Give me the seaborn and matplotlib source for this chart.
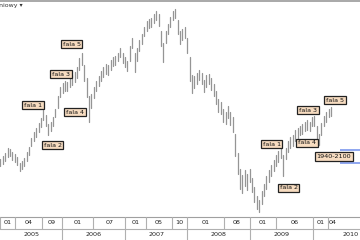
import matplotlib
matplotlib.use("Agg")
import matplotlib.pyplot as plt
import seaborn as sns
import pandas as pd
import numpy as np

# ---- data (bi-weekly high/low, index points) ----
start_date = "2005-01-03"
lows = [1900, 1930, 1960, 2010, 2020, 1980, 1950, 1920, 1840, 1870,
        1900, 1970, 2040, 2150, 2210, 2260, 2320, 2380, 2470, 2400,
        2280, 2330, 2390, 2500, 2620, 2750, 2800, 2830, 2820, 2870,
        2900, 2940, 2990, 3080, 3150, 2950, 2750, 2450, 2620, 2740,
        2830, 2890, 2950, 3000, 3040, 3020, 3090, 3130, 3150, 3190,
        3240, 3170, 3120, 3070, 3200, 3350, 3060, 3200, 3320, 3410,
        3500, 3570, 3600, 3610, 3660, 3700, 3630, 3380, 3185, 3420,
        3530, 3620, 3700, 3730, 3530, 3410, 3460, 3480, 3300, 2950,
        2800, 2860, 2910, 2960, 2910, 2810, 2880, 2910, 2840, 2760,
        2660, 2570, 2540, 2450, 2420, 2490, 2410, 2320, 2030, 1800,
        1620, 1570, 1660, 1610, 1700, 1580, 1460, 1370, 1336, 1430,
        1530, 1620, 1700, 1780, 1840, 1900, 1950, 2000, 1780, 1990,
        2080, 2130, 2150, 2210, 2250, 2280, 2300, 2330, 2350, 2330,
        2390, 2400, 2240, 2160, 2280, 2390, 2450, 2500, 2520]
highs = [1990, 2020, 2060, 2130, 2110, 2080, 2050, 2010, 1940, 1960,
         2000, 2070, 2140, 2250, 2320, 2370, 2430, 2490, 2590, 2530,
         2420, 2440, 2500, 2610, 2760, 2880, 2920, 2950, 2940, 2990,
         3020, 3060, 3120, 3230, 3300, 3150, 2980, 2760, 2790, 2870,
         2950, 3010, 3070, 3120, 3160, 3140, 3210, 3240, 3260, 3300,
         3350, 3290, 3240, 3200, 3380, 3480, 3300, 3360, 3450, 3530,
         3620, 3690, 3710, 3730, 3770, 3810, 3770, 3560, 3420, 3570,
         3650, 3740, 3810, 3835, 3700, 3560, 3590, 3610, 3480, 3250,
         3020, 3010, 3050, 3090, 3050, 2960, 3020, 3040, 2980, 2910,
         2820, 2730, 2690, 2610, 2570, 2640, 2570, 2500, 2300, 2060,
         1860, 1790, 1850, 1800, 1870, 1760, 1640, 1530, 1490, 1590,
         1680, 1780, 1850, 1920, 1980, 2040, 2090, 2130, 2040, 2130,
         2210, 2260, 2280, 2340, 2370, 2400, 2420, 2450, 2470, 2450,
         2510, 2520, 2400, 2300, 2430, 2520, 2570, 2610, 2630]

month_ticks = ["2005-01", "2005-04", "2005-09", "2006-01", "2006-07",
               "2007-01", "2007-05", "2007-10", "2008-01", "2008-08",
               "2009-01", "2009-06", "2010-01", "2010-04"]
month_labels = ["01", "04", "09", "01", "07", "01", "05", "10", "01", "08",
                "01", "06", "01", "04"]
years = ["2005", "2006", "2007", "2008", "2009", "2010"]

wave_labels = ["fala 1", "fala 2", "fala 3", "fala 4", "fala 5",
               "fala 1", "fala 2", "fala 3", "fala 4", "fala 5"]
wave_dates = ["2005-07-13", "2005-11-05", "2005-12-23", "2006-03-15", "2006-02-24",
              "2009-05-08", "2009-08-15", "2009-12-05", "2009-11-29", "2010-05-12"]
wave_levels = [2653, 2161, 3035, 2567, 3404, 2173, 1632, 2592, 2186, 2715]

target_label = "1940-2100"
target_low, target_high = 1940, 2100

# ---- build long table ----
dates = pd.date_range(start_date, periods=len(highs), freq="14D")
df = pd.DataFrame({
    "date": np.concatenate([dates, dates]),
    "price": lows + highs,
    "bar": list(range(len(lows))) * 2,
})

sns.set_style("white")
plt.rcParams["font.family"] = ["DejaVu Sans"]

W, H = 360, 240
fig = plt.figure(figsize=(3.6, 2.4), dpi=100)
ax = fig.add_axes([0, 23 / H, 1, 216 / H])

sns.lineplot(data=df, x="date", y="price", units="bar", estimator=None,
             color="#959595", lw=0.9, legend=False, ax=ax, sort=False)

x0 = pd.Timestamp("2005-01-01")
x1 = pd.Timestamp("2010-10-05")
ax.set_xlim(x0, x1)
ax.set_ylim(1275, 3934)
ax.set_xticks([])
ax.set_yticks([])
ax.set_xlabel("")
ax.set_ylabel("")
for s in ["left", "right"]:
    ax.spines[s].set_visible(False)
ax.spines["top"].set_color("#9a9a9a")
ax.spines["top"].set_linewidth(1.2)
ax.spines["bottom"].set_color("#a0a0a0")
ax.spines["bottom"].set_linewidth(0.8)

# wave labels
for lab, d, lv in zip(wave_labels, wave_dates, wave_levels):
    ax.text(pd.Timestamp(d), lv, lab, fontsize=4.6, ha="center", va="center",
            color="#111111",
            bbox=dict(boxstyle="square,pad=0.25", fc="#f7dcc0", ec="#222222", lw=0.9))

# target zone
ax.hlines([target_high, target_low], pd.Timestamp("2010-06-09"), x1,
          color="#7b97ee", lw=1.2)
ax.text(pd.Timestamp("2010-05-05"), (target_low + target_high) / 2, target_label,
        fontsize=4.6, ha="center", va="center", color="#111111",
        bbox=dict(boxstyle="square,pad=0.25", fc="#f7dcc0", ec="#222222", lw=0.9))

# top-left dropdown text
fig.text(-0.003, 1 - 5 / H, "niowy \u25be", fontsize=4.5, color="#333333",
         ha="left", va="center")

# ---- bottom time axis ----
ax2 = fig.add_axes([0, 0, 1, 23 / H])
ax2.set_xlim(x0, x1)
ax2.set_ylim(0, 1)
ax2.axis("off")
row = 0.478
ax2.axhline(row, color="#b0b0b0", lw=0.8)
mt = [pd.Timestamp(m + "-01") for m in month_ticks]
for i, t in enumerate(mt):
    ax2.plot([t, t], [row, 1], color="#b0b0b0", lw=0.8)
    if i + 1 < len(mt):
        c = t + (mt[i + 1] - t) / 2
    else:
        c = t + pd.Timedelta(days=28)
    ax2.text(c, 0.76, month_labels[i], fontsize=4.6, ha="center", va="center",
             color="#222222")
yb = [pd.Timestamp(y + "-01-01") for y in years]
for i, t in enumerate(yb):
    if i > 0:
        ax2.plot([t, t], [0, row], color="#b0b0b0", lw=0.8)
    if i + 1 < len(yb):
        c = t + (yb[i + 1] - t) / 2
    else:
        c = t + pd.Timedelta(days=225)
    ax2.text(c, 0.24, years[i], fontsize=4.6, ha="center", va="center",
             color="#222222")

fig.savefig("out.png", dpi=100)
